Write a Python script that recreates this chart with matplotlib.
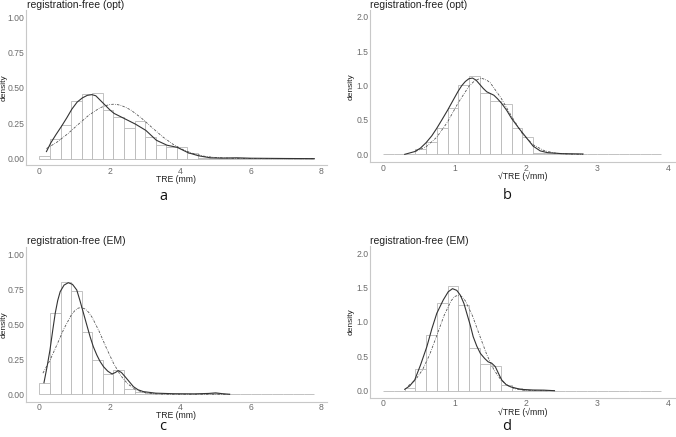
import numpy as np
import matplotlib
matplotlib.use("Agg")
import matplotlib.pyplot as plt

plt.rcParams['font.family'] = ['Liberation Sans', 'DejaVu Sans']

# ---- data ----
# TRE (mm) histograms, 0.3 mm bins from 0 to 7.8
bin_w_mm = 0.3
hist_opt_mm = [0.019, 0.137, 0.237, 0.41, 0.458, 0.462, 0.341, 0.298, 0.216, 0.268,
               0.151, 0.095, 0.085, 0.08, 0.038, 0.006, 0.003, 0.002, 0.004, 0.002,
               0.001, 0.001, 0.001, 0.001, 0.001, 0.001]
hist_em_mm = [0.083, 0.579, 0.80, 0.74, 0.443, 0.243, 0.143, 0.171, 0.038, 0.019,
              0.01, 0.004, 0.003, 0.003, 0.002, 0.002, 0.008, 0.002, 0.0, 0.0,
              0.0, 0.0, 0.0, 0.0, 0.0, 0.0]

# sqrt(TRE) histograms, 0.15 bins from 0 to 3.9
bin_w_sq = 0.15
hist_opt_sq = [0.0, 0.0, 0.005, 0.075, 0.185, 0.39, 0.67, 1.01, 1.145, 0.893,
               0.78, 0.728, 0.39, 0.25, 0.025, 0.015, 0.01, 0.01, 0.01, 0.0,
               0.0, 0.0, 0.0, 0.0, 0.0, 0.0]
hist_em_sq = [0.0, 0.0, 0.04, 0.313, 0.808, 1.27, 1.52, 1.245, 0.617, 0.389,
              0.364, 0.08, 0.034, 0.015, 0.01, 0.008, 0.0, 0.0, 0.0, 0.0,
              0.0, 0.0, 0.0, 0.0, 0.0, 0.0]

# kernel density (solid) and normal fit (dash-dot) curves
kde_opt_mm_x = [0.2, 0.32, 0.47, 0.63, 0.78, 0.92, 1.07, 1.22, 1.36, 1.49, 1.6, 1.7, 1.8,
                1.9, 2.0, 2.12, 2.4, 2.72, 3.02, 3.32, 3.62, 3.91, 4.22, 4.52, 4.85, 5.2,
                5.6, 6.0, 6.5, 7.0, 7.8]
kde_opt_mm_y = [0.05, 0.11, 0.17, 0.23, 0.29, 0.35, 0.40, 0.43, 0.448, 0.453, 0.445,
                0.42, 0.395, 0.37, 0.345, 0.32, 0.285, 0.245, 0.2, 0.13, 0.095, 0.08,
                0.042, 0.02, 0.006, 0.004, 0.006, 0.003, 0.002, 0.001, 0.0]
norm_opt_mm_x = [0.2, 0.5, 0.8, 1.1, 1.4, 1.7, 1.85, 2.0, 2.1, 2.2, 2.3, 2.45, 2.6, 2.9,
                 3.2, 3.5, 3.8, 4.1, 4.4, 4.7, 5.0, 5.5, 6.0, 7.0, 7.8]
norm_opt_mm_y = [0.071, 0.117, 0.175, 0.242, 0.307, 0.357, 0.373, 0.383, 0.385, 0.383,
                 0.378, 0.363, 0.343, 0.286, 0.219, 0.154, 0.10, 0.06, 0.033, 0.016,
                 0.008, 0.002, 0.0005, 0.0, 0.0]

kde_em_mm_x = [0.13, 0.22, 0.3, 0.38, 0.45, 0.52, 0.59, 0.7, 0.82, 0.94, 1.06, 1.15,
               1.25, 1.35, 1.44, 1.53, 1.63, 1.72, 1.82, 1.94, 2.06, 2.15, 2.24, 2.33,
               2.43, 2.55, 2.67, 2.8, 2.95, 3.3, 3.8, 4.4, 4.8, 5.0, 5.2, 5.4]
kde_em_mm_y = [0.083, 0.2, 0.316, 0.46, 0.58, 0.67, 0.733, 0.78, 0.797, 0.785, 0.745,
               0.67, 0.58, 0.49, 0.41, 0.34, 0.28, 0.235, 0.197, 0.165, 0.145, 0.155,
               0.169, 0.155, 0.126, 0.09, 0.054, 0.032, 0.019, 0.008, 0.004, 0.003,
               0.006, 0.01, 0.004, 0.0]
norm_em_mm_x = [0.1, 0.3, 0.5, 0.7, 0.9, 1.0, 1.1, 1.18, 1.3, 1.4, 1.5, 1.7, 1.9, 2.1,
                2.3, 2.5, 2.7, 2.9, 3.2, 3.5, 4.0, 5.4]
norm_em_mm_y = [0.151, 0.243, 0.355, 0.47, 0.564, 0.596, 0.615, 0.62, 0.609, 0.585,
                0.548, 0.447, 0.331, 0.223, 0.136, 0.076, 0.038, 0.017, 0.0045, 0.001,
                0.0, 0.0]

kde_opt_sq_x = [0.3, 0.44, 0.52, 0.6, 0.68, 0.75, 0.82, 0.9, 0.98, 1.05, 1.1, 1.15,
                1.2, 1.25, 1.3, 1.35, 1.4, 1.45, 1.5, 1.55, 1.6, 1.66, 1.73, 1.8, 1.9,
                2.0, 2.1, 2.2, 2.3, 2.5, 2.8]
kde_opt_sq_y = [0.0, 0.04, 0.09, 0.17, 0.27, 0.38, 0.5, 0.64, 0.79, 0.92, 1.0, 1.06,
                1.1, 1.11, 1.08, 1.02, 0.96, 0.91, 0.885, 0.86, 0.81, 0.74, 0.64, 0.52,
                0.38, 0.25, 0.12, 0.05, 0.025, 0.01, 0.005]
norm_opt_sq_x = [0.45, 0.6, 0.75, 0.9, 1.05, 1.2, 1.28, 1.37, 1.45, 1.5, 1.65, 1.8,
                 1.95, 2.1, 2.25, 2.4, 2.6, 2.8]
norm_opt_sq_y = [0.042, 0.11, 0.25, 0.47, 0.75, 0.99, 1.07, 1.11, 1.08, 1.04, 0.82,
                 0.55, 0.30, 0.14, 0.056, 0.019, 0.003, 0.0]

kde_em_sq_x = [0.3, 0.37, 0.44, 0.52, 0.61, 0.68, 0.75, 0.84, 0.91, 0.97, 1.03, 1.08,
               1.13, 1.17, 1.22, 1.26, 1.31, 1.36, 1.42, 1.47, 1.52, 1.57, 1.62, 1.66,
               1.72, 1.78, 1.92, 2.1, 2.25, 2.4]
kde_em_sq_y = [0.02, 0.07, 0.156, 0.37, 0.64, 0.9, 1.127, 1.32, 1.44, 1.485, 1.46,
               1.39, 1.27, 1.127, 0.95, 0.786, 0.65, 0.544, 0.47, 0.42, 0.4, 0.35,
               0.24, 0.156, 0.09, 0.058, 0.02, 0.01, 0.008, 0.0]
norm_em_sq_x = [0.35, 0.45, 0.55, 0.65, 0.75, 0.85, 0.95, 1.0, 1.05, 1.1, 1.15, 1.25,
                1.35, 1.45, 1.55, 1.65, 1.75, 1.85, 1.95, 2.1, 2.3]
norm_em_sq_y = [0.071, 0.156, 0.305, 0.526, 0.805, 1.09, 1.308, 1.37, 1.39, 1.37,
                1.308, 1.09, 0.805, 0.526, 0.305, 0.156, 0.071, 0.028, 0.01, 0.002, 0.0]

titles = ['registration-free (opt)', 'registration-free (opt)',
          'registration-free (EM)', 'registration-free (EM)']
letters = ['a', 'b', 'c', 'd']
xlab_mm = 'TRE (mm)'
xlab_sq = '√TRE (√mm)'

W, H = 676, 437
fig = plt.figure(figsize=(W / 100, H / 100), dpi=100)

grey_axis = '#c8c8c8'
grey_text = '#6b6b6b'


def px_axes(left, top, right, bottom):
    # axes from pixel box
    return fig.add_axes([left / W, 1 - bottom / H, (right - left) / W, (bottom - top) / H])


def draw_panel(ax, heights, bw, kx, ky, nx, ny, xlim, ylim, xticks, yticks, ylabfmt, xlab,
               xlab_y, ylab_x):
    edges = np.arange(len(heights)) * bw
    ax.bar(edges, heights, width=bw, align='edge', facecolor='white',
           edgecolor='#b8b8b8', linewidth=0.6, zorder=1)
    ax.plot(kx, ky, color='#333333', lw=0.8, zorder=3)
    ax.plot(nx, ny, color='#555555', lw=0.6, linestyle=(0, (3, 1.5, 0.8, 1.5)), zorder=2)
    ax.set_xlim(*xlim)
    ax.set_ylim(*ylim)
    ax.set_xticks(xticks)
    ax.set_yticks(yticks)
    ax.set_yticklabels([ylabfmt.format(v) for v in yticks])
    for s in ['top', 'right']:
        ax.spines[s].set_visible(False)
    for s in ['left', 'bottom']:
        ax.spines[s].set_color(grey_axis)
        ax.spines[s].set_linewidth(0.8)
    ax.tick_params(length=0, labelsize=6.2, labelcolor=grey_text)
    ax.tick_params(axis='x', pad=1.2)
    ax.tick_params(axis='y', pad=1.2)
    ax.set_xlabel(xlab, fontsize=6.2, color='#222222')
    ax.set_ylabel('density', fontsize=6, color='#222222')
    # label positions from pixel coordinates
    x0, y0, w, h = ax.get_position().bounds
    ax.xaxis.set_label_coords(0.5, ((1 - xlab_y / H) - y0) / h)
    ax.yaxis.set_label_coords((ylab_x / W - x0) / w, 0.5)
    ax.xaxis.label.set_va('center')
    ax.yaxis.label.set_va('center')


ax_a = px_axes(26, 10, 327, 165)
draw_panel(ax_a, hist_opt_mm, bin_w_mm, kde_opt_mm_x, kde_opt_mm_y, norm_opt_mm_x, norm_opt_mm_y,
           (-0.38, 8.16), (-0.045, 1.052), [0, 2, 4, 6, 8], [0, 0.25, 0.5, 0.75, 1.0],
           '{:.2f}', xlab_mm, 179.5, 4)

ax_b = px_axes(370, 10, 675, 162.3)
draw_panel(ax_b, hist_opt_sq, bin_w_sq, kde_opt_sq_x, kde_opt_sq_y, norm_opt_sq_x, norm_opt_sq_y,
           (-0.187, 4.09), (-0.116, 2.10), [0, 1, 2, 3, 4], [0, 0.5, 1.0, 1.5, 2.0],
           '{:.1f}', xlab_sq, 176.5, 351)

ax_c = px_axes(26, 247, 327, 401.7)
draw_panel(ax_c, hist_em_mm, bin_w_mm, kde_em_mm_x, kde_em_mm_y, norm_em_mm_x, norm_em_mm_y,
           (-0.38, 8.16), (-0.053, 1.052), [0, 2, 4, 6, 8], [0, 0.25, 0.5, 0.75, 1.0],
           '{:.2f}', xlab_mm, 416, 4)

ax_d = px_axes(370, 246, 675, 397.7)
draw_panel(ax_d, hist_em_sq, bin_w_sq, kde_em_sq_x, kde_em_sq_y, norm_em_sq_x, norm_em_sq_y,
           (-0.187, 4.09), (-0.102, 2.106), [0, 1, 2, 3, 4], [0, 0.5, 1.0, 1.5, 2.0],
           '{:.1f}', xlab_sq, 412, 351)

# titles and panel letters
title_pos = [(27, 5), (370, 5), (27, 241), (370, 241)]
letter_pos = [(163, 200), (507, 199), (163, 430), (507, 430)]
for t, (x, y) in zip(titles, title_pos):
    fig.text(x / W, 1 - y / H, t, fontsize=7.5, color='#222222', ha='left', va='center')
for l, (x, y) in zip(letters, letter_pos):
    fig.text(x / W, 1 - y / H, l, fontsize=10.5, color='#111111', ha='center', va='baseline',
             family=['Open Sans', 'DejaVu Sans'])

fig.savefig('out.png', dpi=100)
